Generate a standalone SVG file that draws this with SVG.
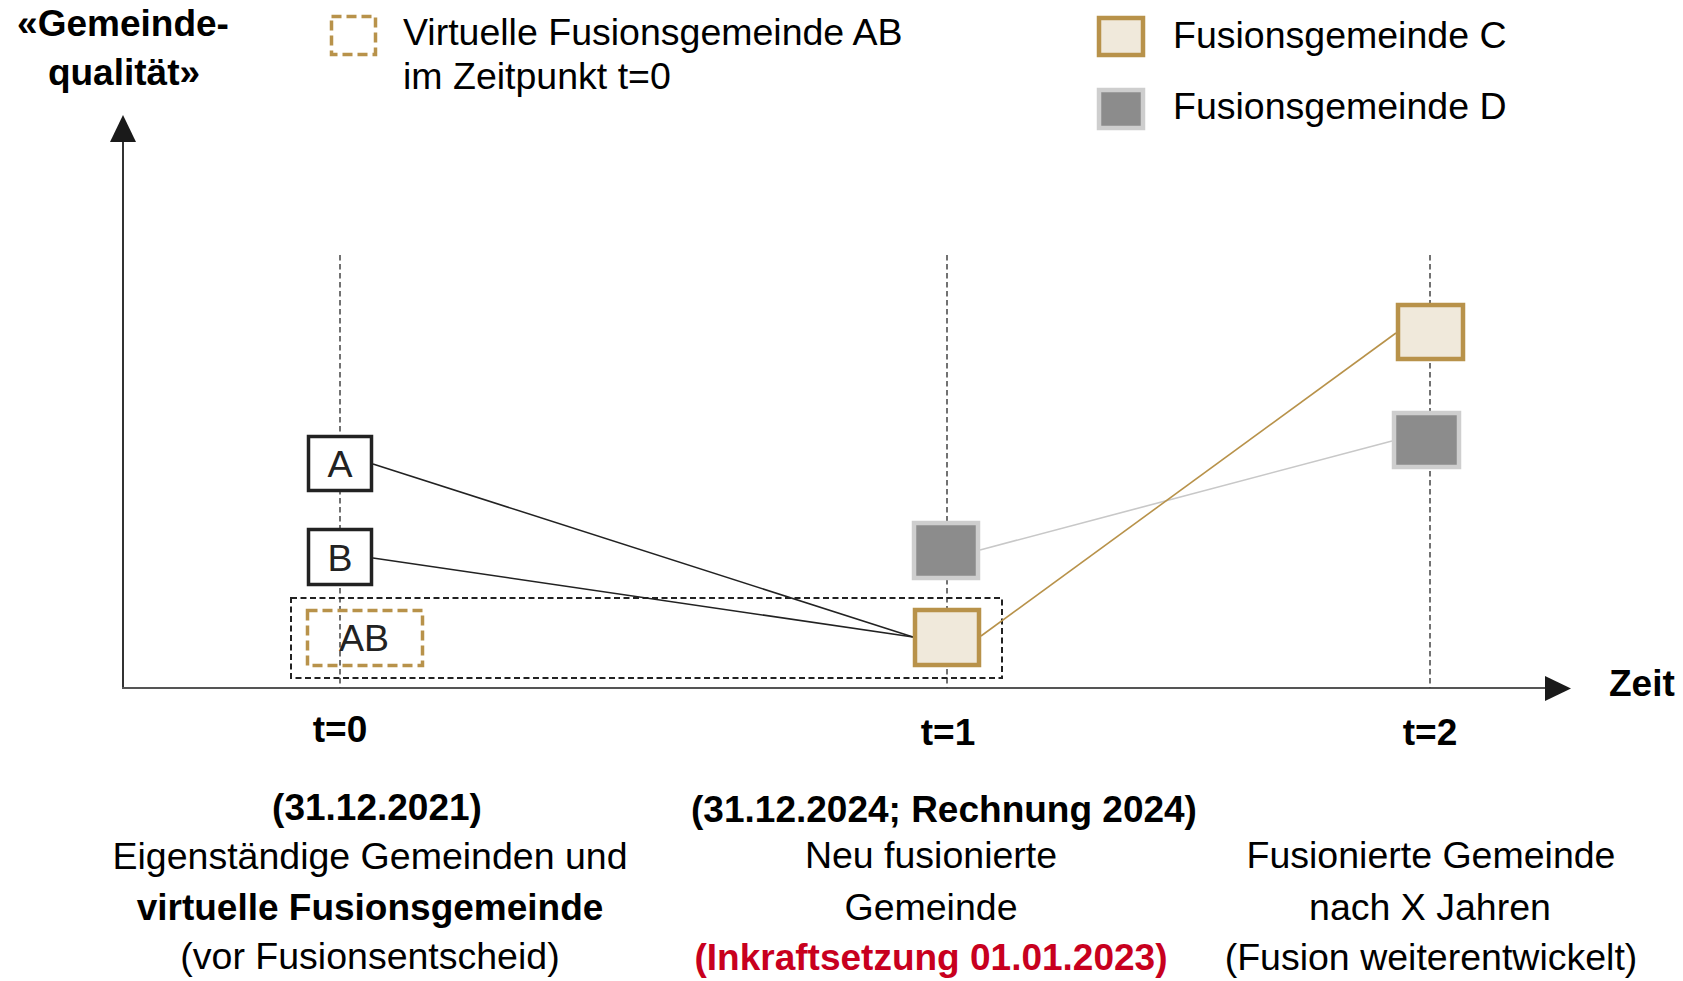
<svg xmlns="http://www.w3.org/2000/svg" width="1683" height="981" viewBox="0 0 1683 981">
<style>
text{font-family:"Liberation Sans",Arial,sans-serif;fill:#000}
.b{font-weight:bold}
.m{text-anchor:middle}
.r{font-size:37.5px}
.bb{font-weight:bold;font-size:37px}
.grid{stroke:#444;stroke-width:1.5;stroke-dasharray:5.5 3.5;fill:none}
.box{fill:#fff;stroke:#222;stroke-width:3.5}
.c{fill:#F0E9DB;stroke:#B8924A;stroke-width:4.5}
.d{fill:#8C8C8C;stroke:#CECECE;stroke-width:4.5}
.gd{fill:none;stroke:#B8924A;stroke-width:3.5;stroke-dasharray:10 5}
</style>
<rect width="1683" height="981" fill="#fff"/>
<g id="axes">
<line x1="123" y1="688" x2="123" y2="142" stroke="#333" stroke-width="2"/>
<path d="M123,115 L110,142 L136,142 z" fill="#1a1a1a"/>
<line x1="122" y1="688" x2="1546" y2="688" stroke="#555" stroke-width="2"/>
<path d="M1545,676 L1571,688.5 L1545,701 z" fill="#1a1a1a"/>
<text x="123" y="36" class="bb m">«Gemeinde-</text>
<text x="124" y="85" class="bb m">qualität»</text>
<text x="1609" y="696" class="bb">Zeit</text>
</g>
<g id="gridlines">
<line x1="340" y1="255" x2="340" y2="688" class="grid"/>
<line x1="947" y1="255" x2="947" y2="688" class="grid"/>
<line x1="1430" y1="255" x2="1430" y2="688" class="grid"/>
</g>
<g id="legend">
<rect x="331.5" y="16.5" width="44" height="38" class="gd"/>
<text x="403" y="45" class="r">Virtuelle Fusionsgemeinde AB</text>
<text x="403" y="89" class="r">im Zeitpunkt t=0</text>
<rect x="1099" y="18" width="44" height="37" class="c"/>
<text x="1173" y="48" class="r">Fusionsgemeinde C</text>
<rect x="1099" y="90" width="44" height="38" class="d"/>
<text x="1173" y="119" class="r">Fusionsgemeinde D</text>
</g>
<g id="group-ab">
<rect x="291" y="598" width="711" height="80" fill="none" stroke="#222" stroke-width="2" stroke-dasharray="6 3.5"/>
</g>
<g id="connectors">
<line x1="373" y1="464" x2="913" y2="637" stroke="#222" stroke-width="1.6"/>
<line x1="373" y1="558" x2="913" y2="637" stroke="#222" stroke-width="1.6"/>
<line x1="980" y1="550" x2="1392" y2="441" stroke="#C8C8C8" stroke-width="1.6"/>
<line x1="981" y1="636" x2="1396" y2="333" stroke="#B8924A" stroke-width="1.6"/>
</g>
<g id="node-a">
<rect x="308.5" y="436.5" width="63" height="54" class="box"/>
<text x="340" y="477" class="m r" style="fill:#222">A</text>
</g>
<g id="node-b">
<rect x="308.5" y="529.5" width="63" height="55" class="box"/>
<text x="340" y="571" class="m r" style="fill:#222">B</text>
</g>
<g id="node-ab">
<rect x="307.5" y="610.5" width="115" height="55" class="gd"/>
<text x="364" y="651" class="m r" style="fill:#222">AB</text>
</g>
<g id="node-d1">
<rect x="914" y="523" width="64" height="55" class="d"/>
</g>
<g id="node-c1">
<rect x="915" y="610" width="64" height="55" class="c"/>
</g>
<g id="node-c2">
<rect x="1398" y="305" width="65" height="54" class="c"/>
</g>
<g id="node-d2">
<rect x="1394" y="413" width="65" height="54" class="d"/>
</g>
<g id="labels">
<text x="340" y="742" class="bb m">t=0</text>
<text x="948" y="745" class="bb m">t=1</text>
<text x="1430" y="745" class="bb m">t=2</text>
<text x="377" y="820" class="bb m">(31.12.2021)</text>
<text x="370" y="869" class="m r">Eigenständige Gemeinden und</text>
<text x="370" y="920" class="bb m">virtuelle Fusionsgemeinde</text>
<text x="370" y="969" class="m r">(vor Fusionsentscheid)</text>
<text x="944" y="822" class="bb m">(31.12.2024; Rechnung 2024)</text>
<text x="931" y="868" class="m r">Neu fusionierte</text>
<text x="931" y="920" class="m r">Gemeinde</text>
<text x="931" y="970" class="bb m" style="fill:#C8001E">(Inkraftsetzung 01.01.2023)</text>
<text x="1431" y="868" class="m r">Fusionierte Gemeinde</text>
<text x="1430" y="920" class="m r">nach X Jahren</text>
<text x="1431" y="970" class="m r">(Fusion weiterentwickelt)</text>
</g>
</svg>
